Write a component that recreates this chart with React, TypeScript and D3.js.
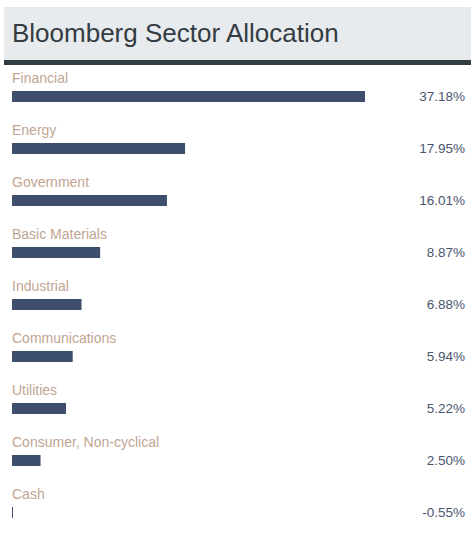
import { useEffect, useRef } from "react"
import * as d3 from "d3"

const sectors = [
  "Financial",
  "Energy",
  "Government",
  "Basic Materials",
  "Industrial",
  "Communications",
  "Utilities",
  "Consumer, Non-cyclical",
  "Cash",
]
const weights = [37.18, 17.95, 16.01, 8.87, 6.88, 5.94, 5.22, 2.5, -0.55]

const title = "Bloomberg Sector Allocation"

export default function App() {
  const svgRef = useRef<SVGSVGElement>(null)

  useEffect(() => {
    if (!svgRef.current) return
    const svg = d3.select(svgRef.current)
    svg.selectAll("*").remove()

    const W = 471
    const H = 533
    const font = "'Liberation Sans', Arial, sans-serif"

    // header
    svg.append("rect").attr("x", 4).attr("y", 7).attr("width", W - 4).attr("height", 53).attr("fill", "#e8ebee")
    svg.append("rect").attr("x", 4).attr("y", 60).attr("width", W - 4).attr("height", 5).attr("fill", "#333d44")
    svg
      .append("text")
      .attr("x", 12)
      .attr("y", 42)
      .attr("font-family", font)
      .attr("font-size", 26)
      .attr("fill", "#333c42")
      .text(title)

    const data = sectors.map((s, i) => ({ sector: s, value: weights[i] }))

    // bars grow from the smallest value (Cash) so it shows as a hairline
    const x = d3
      .scaleLinear()
      .domain([d3.min(weights) || 0, d3.max(weights) || 0])
      .range([12, 365])

    const y = d3.scaleBand().domain(sectors).range([65, 65 + 52 * sectors.length])

    const rows = svg
      .selectAll(".row")
      .data(data)
      .enter()
      .append("g")
      .attr("class", "row")
      .attr("transform", (d) => `translate(0,${y(d.sector)})`)

    rows
      .append("text")
      .attr("x", 12)
      .attr("y", 18)
      .attr("font-family", font)
      .attr("font-size", 14)
      .attr("fill", "#bfa593")
      .text((d) => d.sector)

    rows
      .append("rect")
      .attr("x", x.range()[0])
      .attr("y", 26)
      .attr("width", (d) => Math.max(1, x(d.value) - x.range()[0]))
      .attr("height", 11)
      .attr("fill", "#3d4f6c")

    rows
      .append("text")
      .attr("x", 465)
      .attr("y", 36)
      .attr("text-anchor", "end")
      .attr("font-family", font)
      .attr("font-size", 13.5)
      .attr("fill", "#4a5670")
      .text((d) => `${d.value.toFixed(2)}%`)

    svg.attr("width", W).attr("height", H)
  }, [])

  return (
    <div style={{ position: "absolute", left: 0, top: 0 }}>
      <svg ref={svgRef} style={{ display: "block" }} />
    </div>
  )
}
